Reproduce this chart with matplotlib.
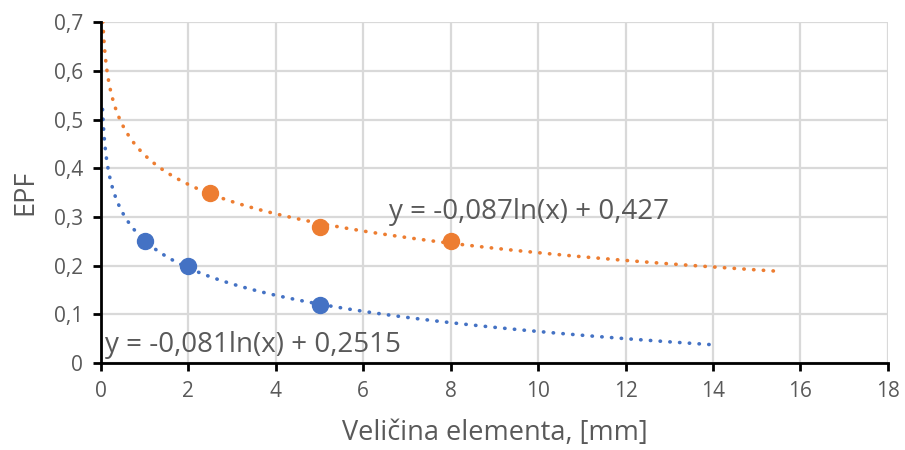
import numpy as np
import matplotlib.pyplot as plt
from matplotlib.ticker import FuncFormatter, MultipleLocator

# data points
blue_x = [1, 2, 5]
blue_y = [0.25, 0.2, 0.12]
orange_x = [2.5, 5, 8]
orange_y = [0.35, 0.28, 0.25]

# logarithmic trendlines (Excel): y = a*ln(x) + b
blue_a, blue_b = -0.081, 0.2515
orange_a, orange_b = -0.087, 0.427
blue_range = [0.036, 14]
orange_range = [0.043, 15.5]

blue_eq = 'y = -0,081ln(x) + 0,2515'
orange_eq = 'y = -0,087ln(x) + 0,427'

c_blue = '#4472C4'
c_orange = '#ED7D31'
txt = '#595959'

plt.rcParams['font.family'] = ['Open Sans', 'DejaVu Sans']

fig = plt.figure(figsize=(9.05, 4.5), dpi=100)
ax = fig.add_axes([0.1116, 0.193, 0.8694, 0.758])

# trendlines
xb = np.geomspace(blue_range[0], blue_range[1], 400)
ax.plot(xb, blue_a * np.log(xb) + blue_b, color=c_blue, lw=2.6,
        linestyle=(0, (0.1, 2.6)), dash_capstyle='round', zorder=2)
xo = np.geomspace(orange_range[0], orange_range[1], 400)
ax.plot(xo, orange_a * np.log(xo) + orange_b, color=c_orange, lw=2.6,
        linestyle=(0, (0.1, 2.6)), dash_capstyle='round', zorder=2)

# points
ax.plot(blue_x, blue_y, 'o', color=c_blue, ms=11.5, zorder=3)
ax.plot(orange_x, orange_y, 'o', color=c_orange, ms=11.5, zorder=3)

ax.text(0.1, 0.037, blue_eq, fontsize=20, color=txt, va='center', ha='left')
ax.text(6.6, 0.31, orange_eq, fontsize=20, color=txt, va='center', ha='left')

ax.set_xlim(0, 18)
ax.set_ylim(0, 0.7)
ax.xaxis.set_major_locator(MultipleLocator(2))
ax.yaxis.set_major_locator(MultipleLocator(0.1))
ax.yaxis.set_major_formatter(FuncFormatter(lambda v, p: f'{v:.1f}'.replace('.', ',') if v > 0.001 else '0'))
ax.xaxis.set_major_formatter(FuncFormatter(lambda v, p: f'{v:.0f}'))

ax.grid(True, color='#D9D9D9', lw=1.6)
ax.set_axisbelow(True)
for s in ['top', 'right']:
    ax.spines[s].set_visible(False)
for s in ['left', 'bottom']:
    ax.spines[s].set_linewidth(2)
    ax.spines[s].set_color('black')
    ax.spines[s].set_zorder(4)
ax.tick_params(direction='out', length=6, width=2, color='black',
               labelsize=15, labelcolor=txt, pad=7)

ax.set_xlabel('Veličina elementa, [mm]', fontsize=19.5, color=txt, labelpad=12)
ax.set_ylabel('EPF', fontsize=19.5, color=txt, labelpad=10)

fig.savefig('out.png', dpi=100)
